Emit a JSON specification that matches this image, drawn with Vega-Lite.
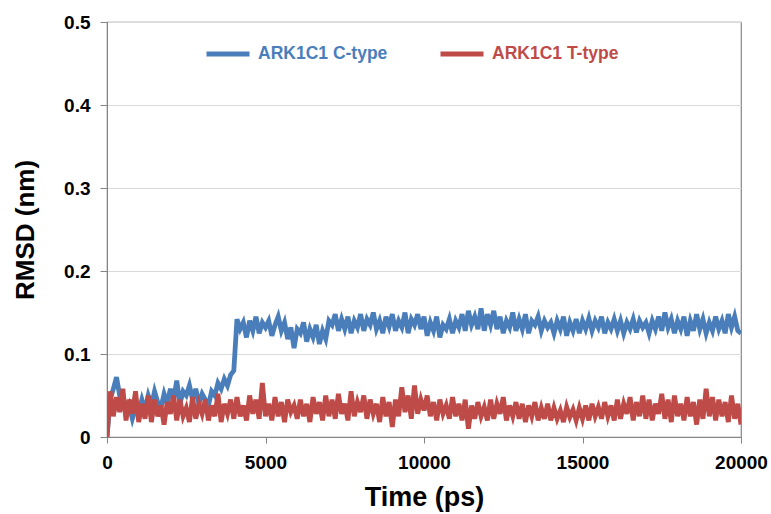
{
  "$schema": "https://vega.github.io/schema/vega-lite/v6.json",
  "width": 634,
  "height": 415,
  "autosize": {"type": "none"},
  "padding": {"left": 107, "top": 22, "right": 30, "bottom": 77},
  "background": "#ffffff",
  "config": {
    "font": "Liberation Sans",
    "view": {"stroke": "#858585", "strokeWidth": 1.2}
  },
  "data": {"values": [
{"t":0,"C":0,"T":0},
{"t":100,"C":0.045,"T":0.055},
{"t":200,"C":0.058,"T":0.025},
{"t":300,"C":0.072,"T":0.048},
{"t":400,"C":0.05,"T":0.03},
{"t":500,"C":0.04,"T":0.058},
{"t":600,"C":0.028,"T":0.02},
{"t":700,"C":0.038,"T":0.045},
{"t":800,"C":0.022,"T":0.028},
{"t":900,"C":0.035,"T":0.055},
{"t":1000,"C":0.03,"T":0.018},
{"t":1100,"C":0.045,"T":0.04},
{"t":1200,"C":0.032,"T":0.022},
{"t":1300,"C":0.05,"T":0.05},
{"t":1400,"C":0.038,"T":0.018},
{"t":1500,"C":0.055,"T":0.045},
{"t":1600,"C":0.042,"T":0.025},
{"t":1700,"C":0.035,"T":0.038},
{"t":1800,"C":0.052,"T":0.015},
{"t":1900,"C":0.04,"T":0.042},
{"t":2000,"C":0.058,"T":0.028},
{"t":2100,"C":0.045,"T":0.05},
{"t":2200,"C":0.068,"T":0.02},
{"t":2300,"C":0.04,"T":0.045},
{"t":2400,"C":0.055,"T":0.025},
{"t":2500,"C":0.05,"T":0.035},
{"t":2600,"C":0.062,"T":0.018},
{"t":2700,"C":0.045,"T":0.048},
{"t":2800,"C":0.058,"T":0.022},
{"t":2900,"C":0.04,"T":0.04},
{"t":3000,"C":0.052,"T":0.028},
{"t":3100,"C":0.045,"T":0.045},
{"t":3200,"C":0.038,"T":0.02},
{"t":3300,"C":0.055,"T":0.038},
{"t":3400,"C":0.05,"T":0.025},
{"t":3500,"C":0.065,"T":0.052},
{"t":3600,"C":0.058,"T":0.018},
{"t":3700,"C":0.07,"T":0.04},
{"t":3800,"C":0.062,"T":0.028},
{"t":3900,"C":0.075,"T":0.045},
{"t":4000,"C":0.08,"T":0.022},
{"t":4100,"C":0.142,"T":0.048},
{"t":4200,"C":0.13,"T":0.025},
{"t":4300,"C":0.138,"T":0.038},
{"t":4400,"C":0.12,"T":0.02},
{"t":4500,"C":0.14,"T":0.05},
{"t":4600,"C":0.128,"T":0.028},
{"t":4700,"C":0.145,"T":0.045},
{"t":4800,"C":0.125,"T":0.022},
{"t":4900,"C":0.138,"T":0.065},
{"t":5000,"C":0.132,"T":0.025},
{"t":5100,"C":0.14,"T":0.04},
{"t":5200,"C":0.122,"T":0.02},
{"t":5300,"C":0.135,"T":0.048},
{"t":5400,"C":0.145,"T":0.025},
{"t":5500,"C":0.128,"T":0.042},
{"t":5600,"C":0.138,"T":0.018},
{"t":5700,"C":0.118,"T":0.045},
{"t":5800,"C":0.132,"T":0.03},
{"t":5900,"C":0.107,"T":0.038},
{"t":6000,"C":0.13,"T":0.022},
{"t":6100,"C":0.125,"T":0.045},
{"t":6200,"C":0.138,"T":0.025},
{"t":6300,"C":0.115,"T":0.04},
{"t":6400,"C":0.13,"T":0.018},
{"t":6500,"C":0.12,"T":0.048},
{"t":6600,"C":0.135,"T":0.028},
{"t":6700,"C":0.112,"T":0.042},
{"t":6800,"C":0.128,"T":0.02},
{"t":6900,"C":0.118,"T":0.05},
{"t":7000,"C":0.14,"T":0.025},
{"t":7100,"C":0.135,"T":0.045},
{"t":7200,"C":0.148,"T":0.022},
{"t":7300,"C":0.128,"T":0.052},
{"t":7400,"C":0.142,"T":0.028},
{"t":7500,"C":0.13,"T":0.04},
{"t":7600,"C":0.145,"T":0.02},
{"t":7700,"C":0.125,"T":0.055},
{"t":7800,"C":0.14,"T":0.025},
{"t":7900,"C":0.132,"T":0.042},
{"t":8000,"C":0.148,"T":0.03},
{"t":8100,"C":0.128,"T":0.05},
{"t":8200,"C":0.142,"T":0.022},
{"t":8300,"C":0.135,"T":0.045},
{"t":8400,"C":0.15,"T":0.028},
{"t":8500,"C":0.13,"T":0.04},
{"t":8600,"C":0.14,"T":0.018},
{"t":8700,"C":0.125,"T":0.048},
{"t":8800,"C":0.145,"T":0.025},
{"t":8900,"C":0.133,"T":0.042},
{"t":9000,"C":0.148,"T":0.012},
{"t":9100,"C":0.128,"T":0.045},
{"t":9200,"C":0.14,"T":0.025},
{"t":9300,"C":0.132,"T":0.06},
{"t":9400,"C":0.15,"T":0.03},
{"t":9500,"C":0.125,"T":0.05},
{"t":9600,"C":0.142,"T":0.022},
{"t":9700,"C":0.135,"T":0.062},
{"t":9800,"C":0.148,"T":0.028},
{"t":9900,"C":0.13,"T":0.045},
{"t":10000,"C":0.145,"T":0.032},
{"t":10100,"C":0.122,"T":0.05},
{"t":10200,"C":0.138,"T":0.025},
{"t":10300,"C":0.128,"T":0.042},
{"t":10400,"C":0.145,"T":0.02},
{"t":10500,"C":0.12,"T":0.045},
{"t":10600,"C":0.135,"T":0.028},
{"t":10700,"C":0.13,"T":0.038},
{"t":10800,"C":0.142,"T":0.022},
{"t":10900,"C":0.125,"T":0.048},
{"t":11000,"C":0.14,"T":0.025},
{"t":11100,"C":0.132,"T":0.04},
{"t":11200,"C":0.148,"T":0.02},
{"t":11300,"C":0.128,"T":0.045},
{"t":11400,"C":0.152,"T":0.01},
{"t":11500,"C":0.135,"T":0.038},
{"t":11600,"C":0.145,"T":0.022},
{"t":11700,"C":0.13,"T":0.042},
{"t":11800,"C":0.155,"T":0.025},
{"t":11900,"C":0.128,"T":0.036},
{"t":12000,"C":0.148,"T":0.02},
{"t":12100,"C":0.135,"T":0.045},
{"t":12200,"C":0.152,"T":0.022},
{"t":12300,"C":0.13,"T":0.04},
{"t":12400,"C":0.145,"T":0.028},
{"t":12500,"C":0.125,"T":0.048},
{"t":12600,"C":0.14,"T":0.02},
{"t":12700,"C":0.132,"T":0.038},
{"t":12800,"C":0.15,"T":0.025},
{"t":12900,"C":0.128,"T":0.042},
{"t":13000,"C":0.142,"T":0.022},
{"t":13100,"C":0.13,"T":0.04},
{"t":13200,"C":0.148,"T":0.018},
{"t":13300,"C":0.125,"T":0.038},
{"t":13400,"C":0.14,"T":0.025},
{"t":13500,"C":0.135,"T":0.042},
{"t":13600,"C":0.145,"T":0.02},
{"t":13700,"C":0.128,"T":0.035},
{"t":13800,"C":0.14,"T":0.022},
{"t":13900,"C":0.132,"T":0.04},
{"t":14000,"C":0.138,"T":0.02},
{"t":14100,"C":0.125,"T":0.035},
{"t":14200,"C":0.14,"T":0.022},
{"t":14300,"C":0.13,"T":0.032},
{"t":14400,"C":0.145,"T":0.018},
{"t":14500,"C":0.122,"T":0.036},
{"t":14600,"C":0.138,"T":0.024},
{"t":14700,"C":0.128,"T":0.033},
{"t":14800,"C":0.142,"T":0.02},
{"t":14900,"C":0.125,"T":0.035},
{"t":15000,"C":0.14,"T":0.022},
{"t":15100,"C":0.13,"T":0.038},
{"t":15200,"C":0.143,"T":0.02},
{"t":15300,"C":0.128,"T":0.04},
{"t":15400,"C":0.14,"T":0.025},
{"t":15500,"C":0.132,"T":0.036},
{"t":15600,"C":0.145,"T":0.022},
{"t":15700,"C":0.125,"T":0.042},
{"t":15800,"C":0.138,"T":0.025},
{"t":15900,"C":0.13,"T":0.038},
{"t":16000,"C":0.142,"T":0.02},
{"t":16100,"C":0.128,"T":0.045},
{"t":16200,"C":0.14,"T":0.022},
{"t":16300,"C":0.125,"T":0.04},
{"t":16400,"C":0.138,"T":0.028},
{"t":16500,"C":0.13,"T":0.048},
{"t":16600,"C":0.142,"T":0.02},
{"t":16700,"C":0.126,"T":0.042},
{"t":16800,"C":0.14,"T":0.025},
{"t":16900,"C":0.132,"T":0.05},
{"t":17000,"C":0.138,"T":0.022},
{"t":17100,"C":0.125,"T":0.045},
{"t":17200,"C":0.14,"T":0.02},
{"t":17300,"C":0.13,"T":0.04},
{"t":17400,"C":0.145,"T":0.028},
{"t":17500,"C":0.128,"T":0.052},
{"t":17600,"C":0.15,"T":0.022},
{"t":17700,"C":0.132,"T":0.045},
{"t":17800,"C":0.142,"T":0.018},
{"t":17900,"C":0.125,"T":0.05},
{"t":18000,"C":0.14,"T":0.025},
{"t":18100,"C":0.13,"T":0.04},
{"t":18200,"C":0.145,"T":0.02},
{"t":18300,"C":0.122,"T":0.048},
{"t":18400,"C":0.14,"T":0.025},
{"t":18500,"C":0.128,"T":0.042},
{"t":18600,"C":0.148,"T":0.015},
{"t":18700,"C":0.13,"T":0.045},
{"t":18800,"C":0.142,"T":0.022},
{"t":18900,"C":0.125,"T":0.058},
{"t":19000,"C":0.138,"T":0.025},
{"t":19100,"C":0.128,"T":0.048},
{"t":19200,"C":0.145,"T":0.02},
{"t":19300,"C":0.13,"T":0.045},
{"t":19400,"C":0.14,"T":0.025},
{"t":19500,"C":0.125,"T":0.042},
{"t":19600,"C":0.148,"T":0.018},
{"t":19700,"C":0.132,"T":0.05},
{"t":19800,"C":0.145,"T":0.022},
{"t":19900,"C":0.128,"T":0.04},
{"t":20000,"C":0.125,"T":0.015}
  ]},
  "transform": [{"fold": ["C", "T"], "as": ["series", "rmsd"]}],
  "mark": {"type": "line", "strokeWidth": 4.8, "clip": true},
  "encoding": {
    "x": {
      "field": "t",
      "type": "quantitative",
      "scale": {"domain": [0, 20000], "nice": false},
      "axis": {
        "values": [0, 5000, 10000, 15000, 20000],
        "format": "d",
        "grid": false,
        "title": "Time (ps)",
        "titleFontSize": 27,
        "titleFontWeight": "bold",
        "titleColor": "#000000",
        "titleBaseline": "alphabetic",
        "titleY": 68,
        "labelFontSize": 19,
        "labelFontWeight": "bold",
        "labelColor": "#000000",
        "labelPadding": 10,
        "labelFlush": false,
        "tickSize": 6,
        "tickColor": "#858585",
        "domainColor": "#858585"
      }
    },
    "y": {
      "field": "rmsd",
      "type": "quantitative",
      "scale": {"domain": [0, 0.5], "nice": false},
      "axis": {
        "values": [0, 0.1, 0.2, 0.3, 0.4, 0.5],
        "labelExpr": "datum.value == 0 ? '0' : format(datum.value, '.1f')",
        "grid": true,
        "gridColor": "#d9d9d9",
        "gridWidth": 1.2,
        "title": "RMSD (nm)",
        "titleFontSize": 26,
        "titleFontWeight": "bold",
        "titleColor": "#000000",
        "titleBaseline": "alphabetic",
        "titleAngle": 270,
        "titleX": -74,
        "titleY": 207.5,
        "labelFontSize": 19,
        "labelFontWeight": "bold",
        "labelColor": "#000000",
        "labelPadding": 10,
        "labelFlush": false,
        "tickSize": 7,
        "tickColor": "#858585",
        "domainColor": "#858585"
      }
    },
    "color": {
      "field": "series",
      "type": "nominal",
      "scale": {"domain": ["C", "T"], "range": ["#4A7EBB", "#BE4B48"]},
      "legend": {
        "orient": "none",
        "legendX": 97,
        "legendY": 8,
        "direction": "horizontal",
        "title": null,
        "padding": 0,
        "symbolType": "stroke",
        "symbolSize": 1849,
        "symbolStrokeWidth": 5,
        "labelExpr": "'ARK1C1 ' + datum.label + '-type'",
        "labelFontSize": 17.5,
        "labelFontWeight": "bold",
        "labelColor": {"expr": "datum.value === 'C' ? '#4A7EBB' : '#BE4B48'"},
        "labelOffset": 6,
        "columnPadding": 42
      }
    }
  }
}
